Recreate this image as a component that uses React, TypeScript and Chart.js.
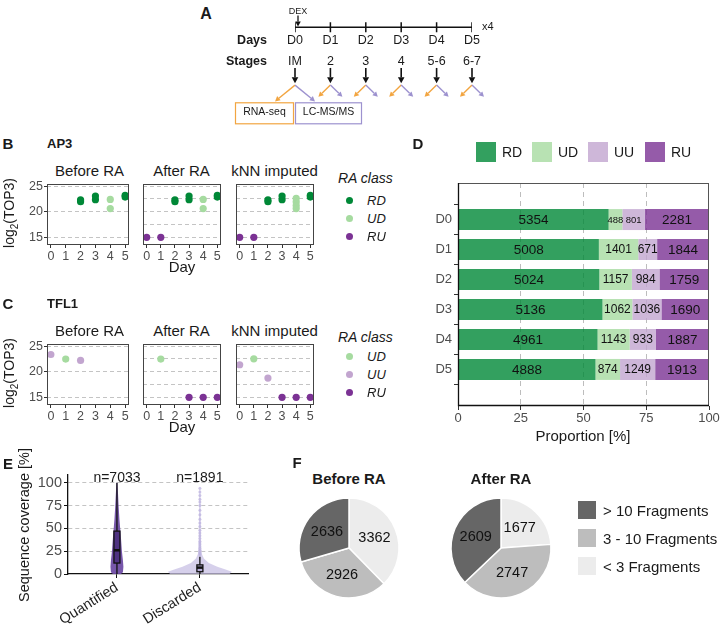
import React, { useEffect, useRef } from "react";
import { Chart, registerables } from "chart.js";

Chart.register(...registerables);
const FONT = '"Liberation Sans", Arial, Helvetica, sans-serif';
Chart.defaults.font.family = FONT;

// ================= DATA =================
// Panel A: experimental timeline
const timelineDays = [0, 1, 2, 3, 4, 5];
const dayNames = ["D0", "D1", "D2", "D3", "D4", "D5"];
const stageNames = ["IM", "2", "3", "4", "5-6", "6-7"];

// Panel B: AP3, log2(TOP3) by day  [day, value]
const ap3BeforeRD = [[2, 21.95], [2, 22.3], [3, 22.35], [3, 23.05], [5, 22.85], [5, 23.2]];
const ap3BeforeUD = [[4, 22.4], [4, 20.6]];
const ap3AfterRD = [[2, 21.95], [2, 22.3], [3, 22.35], [3, 23.05], [5, 22.85], [5, 23.2]];
const ap3AfterUD = [[4, 22.4], [4, 20.6]];
const ap3AfterRU = [[0, 15], [1, 15]];
const ap3KnnRD = [[2, 21.95], [2, 22.3], [3, 22.35], [3, 23.05], [5, 22.85], [5, 23.2]];
const ap3KnnUD = [[4, 22.6], [4, 21.9], [4, 21.2], [4, 20.6]];
const ap3KnnRU = [[0, 15], [1, 15]];

// Panel C: TFL1
const tfl1BeforeUD = [[1, 22.45]];
const tfl1BeforeUU = [[0, 23.35], [2, 22.2]];
const tfl1AfterUD = [[1, 22.45]];
const tfl1AfterRU = [[3, 15], [4, 15], [5, 15]];
const tfl1KnnUD = [[1, 22.5]];
const tfl1KnnUU = [[0, 21.35], [2, 18.75]];
const tfl1KnnRU = [[3, 15], [4, 15], [5, 15]];

const dayTicks = [0, 1, 2, 3, 4, 5];
const log2Grid = [15, 17.5, 20, 22.5, 25];
const facetTitles = ["Before RA", "After RA", "kNN imputed"];

// Panel D: protein counts per RA class and day
const raClasses = ["RD", "UD", "UU", "RU"];
const countRD = [5354, 5008, 5024, 5136, 4961, 4888];
const countUD = [488, 1401, 1157, 1062, 1143, 874];
const countUU = [801, 671, 984, 1036, 933, 1249];
const countRU = [2281, 1844, 1759, 1690, 1887, 1913];
const proportionTicks = [0, 25, 50, 75, 100];

// Panel E: sequence coverage
const coverageGroups = ["Quantified", "Discarded"];
const groupN = [7033, 1891];
const coverageTicks = [0, 12.5, 25, 37.5, 50, 62.5, 75, 87.5, 100];
const quantViolinY = [0, 2, 8, 15, 25, 40, 60, 75, 90, 100];
const quantViolinW = [0.048, 0.072, 0.078, 0.072, 0.06, 0.048, 0.03, 0.02, 0.012, 0.005];
const discViolinY = [0, 2.5, 5, 8, 12, 17, 22, 30, 50, 70, 94];
const discViolinW = [0.36, 0.385, 0.31, 0.21, 0.108, 0.048, 0.024, 0.014, 0.012, 0.01, 0.006];
const quantBox = [0, 12, 26, 47, 100]; // lower whisker, q1, median, q3, upper whisker
const discBox = [0, 2.5, 7, 10, 19];
const discOutliers = [21, 22.5, 24, 26, 28, 30, 32, 34, 36, 39, 42, 45, 48, 52, 56, 60, 65, 70, 75, 79, 82, 86, 90, 94];

// Panel F: fragments per protein
const fragmentClasses = ["< 3 Fragments", "3 - 10 Fragments", "> 10 Fragments"];
const fragBefore = [3362, 2926, 2636];
const fragAfter = [1677, 2747, 2609];

// ================= STYLE =================
const C_RD = "#008837";
const C_UD = "#a6dba0";
const C_UU = "#c2a5cf";
const C_RU = "#7b3294";
const BAR_COLORS = ["rgba(0,136,55,0.8)", "rgba(166,219,160,0.8)", "rgba(194,165,207,0.8)", "rgba(123,50,148,0.8)"];
const FRAG_COLORS = ["#ececec", "#bdbdbd", "#666666"];
const ORANGE = "#f2a541";
const LAVENDER = "#9d92cf";
const TICK_GREY = "#4d4d4d";
const TXT = "#1a1a1a";

function zeroPad(s: any) {
  s.paddingLeft = 0; s.paddingRight = 0; s.paddingTop = 0; s.paddingBottom = 0;
}

function arrow(ctx: CanvasRenderingContext2D, x1: number, y1: number, x2: number, y2: number, color: string, lw: number, head: number) {
  const a = Math.atan2(y2 - y1, x2 - x1);
  const bx = x2 - head * Math.cos(a);
  const by = y2 - head * Math.sin(a);
  ctx.strokeStyle = color; ctx.fillStyle = color; ctx.lineWidth = lw;
  ctx.beginPath(); ctx.moveTo(x1, y1); ctx.lineTo(bx, by); ctx.stroke();
  const hw = head * 0.55;
  ctx.beginPath();
  ctx.moveTo(x2, y2);
  ctx.lineTo(bx + hw * Math.sin(a), by - hw * Math.cos(a));
  ctx.lineTo(bx - hw * Math.sin(a), by + hw * Math.cos(a));
  ctx.closePath(); ctx.fill();
}

// ---------- Panel A ----------
const panelAPlugin = {
  id: "panelA",
  afterDatasetsDraw(chart: any) {
    const { ctx } = chart;
    const xs = chart.scales.x;
    const ys = chart.scales.y;
    const Y = (v: number) => ys.getPixelForValue(v);
    ctx.save();
    ctx.textBaseline = "middle";
    ctx.fillStyle = TXT;
    const x0 = xs.getPixelForValue(timelineDays[0]);
    const x5 = xs.getPixelForValue(timelineDays[timelineDays.length - 1]);
    ctx.font = `9px ${FONT}`; ctx.textAlign = "center";
    ctx.fillText("DEX", x0 + 3, Y(5));
    arrow(ctx, x0 + 3, Y(10), x0 + 3, Y(22), "#111", 1.3, 5);
    ctx.fillStyle = TXT;
    ctx.font = `11px ${FONT}`; ctx.textAlign = "left";
    ctx.fillText("x4", x5 + 10, Y(23));
    ctx.font = `bold 12.5px ${FONT}`; ctx.textAlign = "right";
    ctx.fillText("Days", x0 - 28, Y(38));
    ctx.fillText("Stages", x0 - 28, Y(61));
    ctx.font = `12.5px ${FONT}`; ctx.textAlign = "center";
    timelineDays.forEach((d, i) => {
      const x = xs.getPixelForValue(d);
      ctx.fillStyle = TXT;
      ctx.fillText(dayNames[i], x, Y(38));
      ctx.fillText(stageNames[i], x, Y(61));
      arrow(ctx, x, Y(68), x, Y(85), "#111", 1.6, 6);
      const big = i === 0;
      const dx = big ? 20 : 12;
      const yEnd = big ? 105 : 100;
      arrow(ctx, x, Y(87), x - dx, Y(yEnd), ORANGE, 1.4, 5);
      arrow(ctx, x, Y(87), x + dx, Y(yEnd), LAVENDER, 1.4, 5);
    });
    // boxes
    ctx.lineWidth = 1.2;
    ctx.strokeStyle = ORANGE;
    ctx.strokeRect(x0 - 59.5, Y(106) + 0.5, 58, 21);
    ctx.strokeStyle = LAVENDER;
    ctx.strokeRect(x0 + 0.5, Y(106) + 0.5, 66, 21);
    ctx.fillStyle = TXT;
    ctx.font = `10.5px ${FONT}`; ctx.textAlign = "center";
    ctx.fillText("RNA-seq", x0 - 30.5, Y(117));
    ctx.fillText("LC-MS/MS", x0 + 33.5, Y(117));
    ctx.restore();
  },
};

function buildPanelA() {
  return {
    type: "scatter",
    data: {
      datasets: [
        {
          data: timelineDays.map((d) => ({ x: d, y: 23 })),
          showLine: true,
          borderColor: "#111",
          borderWidth: 1.5,
          pointStyle: "line",
          rotation: 90,
          pointRadius: 5,
          pointBorderColor: "#111",
          pointBorderWidth: 1.5,
        },
      ],
    },
    options: {
      responsive: false, animation: false, events: [],
      layout: { padding: { left: 105, right: 38, top: 0, bottom: 0 } },
      plugins: { legend: { display: false }, tooltip: { enabled: false } },
      scales: {
        x: { type: "linear", min: 0, max: 5, display: false },
        y: { type: "linear", min: 0, max: 135, reverse: true, display: false },
      },
    },
    plugins: [panelAPlugin],
  };
}

// ---------- Panels B / C ----------
const borderPlugin = {
  id: "panelBorder",
  afterDatasetsDraw(chart: any) {
    const { ctx, chartArea: a } = chart;
    ctx.save();
    ctx.strokeStyle = "#444";
    ctx.lineWidth = 1;
    ctx.strokeRect(Math.round(a.left) + 0.5, Math.round(a.top) + 0.5, Math.round(a.right - a.left) - 1, Math.round(a.bottom - a.top) - 1);
    ctx.restore();
  },
};

function buildFacet(series: { pts: number[][]; color: string }[], showY: boolean) {
  return () => ({
    type: "scatter",
    data: {
      datasets: series.map((s) => ({
        data: s.pts.map(([x, y]) => ({ x, y })),
        pointBackgroundColor: s.color,
        pointBorderColor: s.color,
        pointBorderWidth: 0,
        pointRadius: 3.6,
      })),
    },
    options: {
      responsive: false, animation: false, events: [],
      layout: { padding: { top: 2, right: 1, left: 0, bottom: 0 } },
      plugins: { legend: { display: false }, tooltip: { enabled: false } },
      scales: {
        x: {
          type: "linear", min: -0.26, max: 5.26,
          afterBuildTicks: (s: any) => { s.ticks = dayTicks.map((v) => ({ value: v })); },
          afterFit: (s: any) => { s.height = 20; zeroPad(s); },
          grid: { drawOnChartArea: false, tickLength: 3, tickColor: "#333" },
          border: { display: false },
          ticks: { color: TICK_GREY, font: { size: 12.5 }, padding: 1, maxRotation: 0, autoSkip: false },
        },
        y: {
          type: "linear", min: 13.5, max: 25.4,
          afterBuildTicks: (s: any) => { s.ticks = log2Grid.map((v) => ({ value: v })); },
          afterFit: (s: any) => { s.width = showY ? 47 : 0; zeroPad(s); },
          grid: {
            color: "#c4c4c4",
            lineWidth: 1,
            drawTicks: showY,
            tickLength: 3,
            tickColor: (c: any) => (c.tick && c.tick.value % 5 === 0 ? "#333" : "rgba(0,0,0,0)"),
            tickBorderDash: [],
          },
          border: { display: false, dash: [4, 3] },
          ticks: {
            display: showY, color: TICK_GREY, font: { size: 12.5 }, padding: 1,
            callback: (v: number) => (v % 5 === 0 ? String(v) : ""),
          },
        },
      },
    },
    plugins: [borderPlugin],
  });
}

// ---------- Panel D ----------
const dCounts = [countRD, countUD, countUU, countRU];
const dayTotals = dayNames.map((_, i) => dCounts.reduce((s, arr) => s + arr[i], 0));

const dLabelPlugin = {
  id: "dLabels",
  afterDatasetsDraw(chart: any) {
    const ctx = chart.ctx;
    ctx.save();
    ctx.textAlign = "center"; ctx.textBaseline = "middle"; ctx.fillStyle = "#111";
    const metas = dCounts.map((_, k) => chart.getDatasetMeta(k));
    dayNames.forEach((_, i) => {
      let mid = 12;
      [1, 2].forEach((k) => {
        const el = metas[k].data[i];
        const w = Math.abs(el.x - el.base);
        const need = String(dCounts[k][i]).length * 0.556 * 12 * 0.85;
        if (w < need) mid = 9.5;
      });
      metas.forEach((m: any, k: number) => {
        const el = m.data[i];
        const size = k === 0 || k === 3 ? 13.5 : mid;
        ctx.font = `${size}px ${FONT}`;
        ctx.fillText(String(dCounts[k][i]), (el.x + el.base) / 2, el.y + 0.5);
      });
    });
    const a = chart.chartArea;
    ctx.strokeStyle = "#555"; ctx.lineWidth = 1;
    ctx.strokeRect(Math.round(a.left) + 0.5, Math.round(a.top) + 0.5, Math.round(a.right - a.left) - 1, Math.round(a.bottom - a.top) - 1);
    ctx.strokeStyle = "#111"; ctx.lineWidth = 1.3;
    ctx.beginPath();
    ctx.moveTo(Math.round(a.left) + 0.5, a.top);
    ctx.lineTo(Math.round(a.left) + 0.5, Math.round(a.bottom) - 0.5);
    ctx.lineTo(a.right, Math.round(a.bottom) - 0.5);
    ctx.stroke();
    ctx.restore();
  },
};

function buildPanelD() {
  return {
    type: "bar",
    data: {
      datasets: raClasses.map((c, k) => ({
        label: c,
        data: dayNames.map((_, i) => ({ x: (dCounts[k][i] / dayTotals[i]) * 100, y: i })),
        backgroundColor: BAR_COLORS[k],
        borderWidth: 0,
        barPercentage: 0.7,
        categoryPercentage: 1,
      })),
    },
    options: {
      indexAxis: "y",
      responsive: false, animation: false, events: [],
      layout: { padding: { top: 8, right: 11, left: 0, bottom: 0 } },
      plugins: { legend: { display: false }, tooltip: { enabled: false } },
      scales: {
        x: {
          type: "linear", stacked: true, min: 0, max: 100,
          afterBuildTicks: (s: any) => { s.ticks = proportionTicks.map((v) => ({ value: v })); },
          afterFit: (s: any) => { s.height = 39; zeroPad(s); },
          grid: {
            color: (c: any) => (c.tick && c.tick.value > 0 && c.tick.value < 100 ? "#bdbdbd" : "rgba(0,0,0,0)"),
            tickLength: 4,
            tickColor: "#333",
            tickBorderDash: [],
          },
          border: { display: false, dash: [5, 4] },
          ticks: { color: TICK_GREY, font: { size: 13 }, padding: 1, maxRotation: 0, autoSkip: false },
        },
        y: {
          type: "linear", stacked: true, min: -0.6, max: 5.6, reverse: true,
          afterBuildTicks: (s: any) => { s.ticks = dayNames.map((_, i) => ({ value: i })); },
          afterFit: (s: any) => { s.width = 58; zeroPad(s); },
          grid: { drawOnChartArea: false, tickLength: 4, tickColor: "#333" },
          border: { display: false },
          ticks: { color: TICK_GREY, font: { size: 13 }, padding: 2, callback: (v: number) => dayNames[v] },
        },
      },
    },
    plugins: [dLabelPlugin],
  };
}

// ---------- Panel E ----------
const violinPlugin = {
  id: "violins",
  beforeDatasetsDraw(chart: any) {
    const { ctx } = chart;
    const xs = chart.scales.x, ys = chart.scales.y;
    const violin = (pos: number, yv: number[], hw: number[], fill: string) => {
      ctx.beginPath();
      yv.forEach((v, i) => {
        const px = xs.getPixelForValue(pos - hw[i]);
        const py = ys.getPixelForValue(v);
        if (i === 0) ctx.moveTo(px, py); else ctx.lineTo(px, py);
      });
      for (let i = yv.length - 1; i >= 0; i--) {
        ctx.lineTo(xs.getPixelForValue(pos + hw[i]), ys.getPixelForValue(yv[i]));
      }
      ctx.closePath();
      ctx.fillStyle = fill;
      ctx.fill();
    };
    const box = (pos: number, b: number[], fill: string, halfPx: number) => {
      const cx = xs.getPixelForValue(pos);
      const [lo, q1, med, q3, hi] = b.map((v) => ys.getPixelForValue(v));
      ctx.strokeStyle = "#111"; ctx.lineWidth = 1.3;
      ctx.beginPath(); ctx.moveTo(cx, lo); ctx.lineTo(cx, q1); ctx.moveTo(cx, q3); ctx.lineTo(cx, hi); ctx.stroke();
      ctx.fillStyle = fill;
      ctx.fillRect(cx - halfPx, q3, halfPx * 2, q1 - q3);
      ctx.strokeRect(cx - halfPx, q3, halfPx * 2, q1 - q3);
      ctx.lineWidth = 2.5;
      ctx.beginPath(); ctx.moveTo(cx - halfPx, med); ctx.lineTo(cx + halfPx, med); ctx.stroke();
    };
    ctx.save();
    violin(1, quantViolinY, quantViolinW, "rgba(112,78,165,0.95)");
    violin(2, discViolinY, discViolinW, "rgba(200,192,228,0.75)");
    box(1, quantBox, "#4f3282", 3);
    box(2, discBox, "#b6acd6", 3);
    ctx.restore();
  },
  afterDatasetsDraw(chart: any) {
    const { ctx } = chart;
    const xs = chart.scales.x, ys = chart.scales.y;
    ctx.save();
    ctx.fillStyle = TXT; ctx.font = `14px ${FONT}`;
    ctx.textAlign = "center"; ctx.textBaseline = "middle";
    groupN.forEach((n, i) => ctx.fillText(`n=${n}`, xs.getPixelForValue(i + 1), ys.getPixelForValue(105.5)));
    ctx.restore();
  },
};

function buildPanelE() {
  return {
    type: "scatter",
    data: {
      datasets: [
        {
          data: discOutliers.map((v) => ({ x: 2, y: v })),
          pointBackgroundColor: "rgba(186,176,222,0.7)",
          pointBorderWidth: 0,
          pointRadius: 1.5,
        },
      ],
    },
    options: {
      responsive: false, animation: false, events: [],
      layout: { padding: { top: 13, right: 7, left: 0, bottom: 0 } },
      plugins: { legend: { display: false }, tooltip: { enabled: false } },
      scales: {
        x: {
          type: "linear", min: 0.41, max: 2.58,
          afterBuildTicks: (s: any) => { s.ticks = coverageGroups.map((_, i) => ({ value: i + 1 })); },
          afterFit: (s: any) => { s.height = 50; zeroPad(s); },
          grid: { drawOnChartArea: false, tickLength: 4, tickColor: "#111" },
          border: { display: true, color: "#111", width: 1.3 },
          ticks: {
            color: "#222", font: { size: 14.5 }, padding: 1, minRotation: 32, maxRotation: 32, autoSkip: false,
            callback: (v: number) => coverageGroups[v - 1],
          },
        },
        y: {
          type: "linear", min: 0, max: 108.5,
          afterBuildTicks: (s: any) => { s.ticks = coverageTicks.map((v) => ({ value: v })); },
          afterFit: (s: any) => { s.width = 38; zeroPad(s); },
          grid: {
            color: (c: any) => (c.tick && c.tick.value > 0 ? "#c4c4c4" : "rgba(0,0,0,0)"),
            tickLength: 4,
            tickColor: (c: any) => (c.tick && c.tick.value % 25 === 0 ? "#111" : "rgba(0,0,0,0)"),
            tickBorderDash: [],
          },
          border: { display: true, color: "#111", width: 1.3, dash: [4, 3] },
          ticks: {
            color: TICK_GREY, font: { size: 14.5 }, padding: 2,
            callback: (v: number) => (v % 25 === 0 ? String(v) : ""),
          },
        },
      },
    },
    plugins: [violinPlugin],
  };
}

// ---------- Panel F ----------
const pieLabelPlugin = {
  id: "pieLabels",
  afterDatasetsDraw(chart: any) {
    const { ctx } = chart;
    const meta = chart.getDatasetMeta(0);
    const values = chart.data.datasets[0].data;
    ctx.save();
    ctx.fillStyle = "#111"; ctx.font = `14.5px ${FONT}`;
    ctx.textAlign = "center"; ctx.textBaseline = "middle";
    meta.data.forEach((arc: any, i: number) => {
      const mid = (arc.startAngle + arc.endAngle) / 2;
      const r = arc.outerRadius * 0.55;
      ctx.fillText(String(values[i]), arc.x + Math.cos(mid) * r, arc.y + Math.sin(mid) * r);
    });
    ctx.restore();
  },
};

function buildPie(values: number[]) {
  return () => ({
    type: "pie",
    data: {
      labels: fragmentClasses,
      datasets: [
        { data: values, backgroundColor: FRAG_COLORS, borderColor: "#ffffff", borderWidth: 1.5, hoverOffset: 0 },
      ],
    },
    options: {
      responsive: false, animation: false, events: [],
      radius: 50,
      layout: { padding: 0 },
      plugins: { legend: { display: false }, tooltip: { enabled: false } },
    },
    plugins: [pieLabelPlugin],
  });
}

// ================= COMPONENTS =================
function ChartCanvas({ left, top, width, height, build }: any) {
  const ref = useRef<HTMLCanvasElement>(null);
  useEffect(() => {
    const chart = new Chart(ref.current as HTMLCanvasElement, build() as any);
    return () => chart.destroy();
  }, []);
  return (
    <canvas
      ref={ref}
      width={width}
      height={height}
      style={{ position: "absolute", left, top, width, height, display: "block" }}
    />
  );
}

function Txt({ x, y, children, size = 14, bold = false, italic = false, align = "left", color = TXT, rotate = 0 }: any) {
  const tx = align === "center" ? "-50%" : align === "right" ? "-100%" : "0";
  const transform = rotate
    ? `translate(-50%, -50%) rotate(${rotate}deg)`
    : `translate(${tx}, -50%)`;
  return (
    <div
      style={{
        position: "absolute", left: x, top: y, transform, whiteSpace: "nowrap",
        fontFamily: FONT, fontSize: size, fontWeight: bold ? "bold" : "normal",
        fontStyle: italic ? "italic" : "normal", color, lineHeight: 1,
      }}
    >
      {children}
    </div>
  );
}

function Dot({ x, y, color }: any) {
  return <div style={{ position: "absolute", left: x - 3.5, top: y - 3.5, width: 7, height: 7, borderRadius: "50%", background: color }} />;
}

function Swatch({ x, y, size, color }: any) {
  return <div style={{ position: "absolute", left: x, top: y, width: size, height: size, background: color }} />;
}

const facetLefts = [47, 139, 232];
const facetWidth = 85;

function FacetRow({ top, panels }: any) {
  return (
    <>
      {panels.map((series: any, j: number) => {
        const first = j === 0;
        const left = first ? 0 : facetLefts[j];
        const width = first ? facetLefts[0] + facetWidth + 1 : facetWidth + 1;
        return (
          <ChartCanvas key={j} left={left} top={top - 2} width={width} height={85} build={buildFacet(series, first)} />
        );
      })}
      {facetTitles.map((t, j) => (
        <Txt key={t} x={facetLefts[j] + facetWidth / 2} y={top - 12} size={15} align="center">{t}</Txt>
      ))}
      <Txt x={11} y={top + 31} size={14} rotate={-90}>
        log<sub style={{ fontSize: 10 }}>2</sub>(TOP3)
      </Txt>
      <Txt x={182} y={top + 84} size={15} align="center">Day</Txt>
    </>
  );
}

export default function App() {
  const bPanels = [
    [{ pts: ap3BeforeRD, color: C_RD }, { pts: ap3BeforeUD, color: C_UD }],
    [{ pts: ap3AfterRD, color: C_RD }, { pts: ap3AfterUD, color: C_UD }, { pts: ap3AfterRU, color: C_RU }],
    [{ pts: ap3KnnRD, color: C_RD }, { pts: ap3KnnUD, color: C_UD }, { pts: ap3KnnRU, color: C_RU }],
  ];
  const cPanels = [
    [{ pts: tfl1BeforeUD, color: C_UD }, { pts: tfl1BeforeUU, color: C_UU }],
    [{ pts: tfl1AfterUD, color: C_UD }, { pts: tfl1AfterRU, color: C_RU }],
    [{ pts: tfl1KnnUD, color: C_UD }, { pts: tfl1KnnUU, color: C_UU }, { pts: tfl1KnnRU, color: C_RU }],
  ];
  const bLegend = [["RD", C_RD], ["UD", C_UD], ["RU", C_RU]];
  const cLegend = [["UD", C_UD], ["UU", C_UU], ["RU", C_RU]];
  const dLegendX = [476, 532, 588, 645];
  const fragLegend = [2, 1, 0];

  return (
    <div style={{ position: "absolute", left: 0, top: 0, width: 722, height: 624, background: "#fff", overflow: "hidden" }}>
      {/* Panel A */}
      <Txt x={206} y={14} size={16} bold align="center">A</Txt>
      <ChartCanvas left={190} top={0} width={320} height={135} build={buildPanelA} />

      {/* Panel B */}
      <Txt x={8} y={143} size={15} bold align="center">B</Txt>
      <Txt x={47} y={143} size={13} bold>AP3</Txt>
      <FacetRow top={182} panels={bPanels} />
      <Txt x={338} y={178} size={14} italic>RA class</Txt>
      {bLegend.map(([l, c], i) => (
        <React.Fragment key={l}>
          <Dot x={349} y={200 + i * 18} color={c} />
          <Txt x={367} y={200 + i * 18} size={13} italic>{l}</Txt>
        </React.Fragment>
      ))}

      {/* Panel C */}
      <Txt x={8} y={303} size={15} bold align="center">C</Txt>
      <Txt x={47} y={303} size={13} bold>TFL1</Txt>
      <FacetRow top={342} panels={cPanels} />
      <Txt x={338} y={337} size={14} italic>RA class</Txt>
      {cLegend.map(([l, c], i) => (
        <React.Fragment key={l}>
          <Dot x={349} y={356 + i * 18} color={c} />
          <Txt x={367} y={356 + i * 18} size={13} italic>{l}</Txt>
        </React.Fragment>
      ))}

      {/* Panel D */}
      <Txt x={418} y={143} size={15} bold align="center">D</Txt>
      {raClasses.map((c, k) => (
        <React.Fragment key={c}>
          <Swatch x={dLegendX[k]} y={142} size={20} color={BAR_COLORS[k]} />
          <Txt x={dLegendX[k] + 26} y={152} size={14}>{c}</Txt>
        </React.Fragment>
      ))}
      <ChartCanvas left={400} top={175} width={320} height={270} build={buildPanelD} />
      <Txt x={583} y={435} size={15} align="center">Proportion [%]</Txt>

      {/* Panel E */}
      <Txt x={8} y={463} size={15} bold align="center">E</Txt>
      <Txt x={24} y={525} size={14.5} rotate={-90}>Sequence coverage [%]</Txt>
      <ChartCanvas left={30} top={462} width={225} height={162} build={buildPanelE} />

      {/* Panel F */}
      <Txt x={297} y={462} size={15} bold align="center">F</Txt>
      <Txt x={349} y={478} size={15} bold align="center">Before RA</Txt>
      <Txt x={501} y={478} size={15} bold align="center">After RA</Txt>
      <ChartCanvas left={294} top={493} width={110} height={110} build={buildPie(fragBefore)} />
      <ChartCanvas left={446} top={493} width={110} height={110} build={buildPie(fragAfter)} />
      {fragLegend.map((k, i) => (
        <React.Fragment key={k}>
          <Swatch x={578} y={501 + i * 28} size={18} color={FRAG_COLORS[k]} />
          <Txt x={603} y={510 + i * 28} size={15}>{fragmentClasses[k]}</Txt>
        </React.Fragment>
      ))}
    </div>
  );
}
